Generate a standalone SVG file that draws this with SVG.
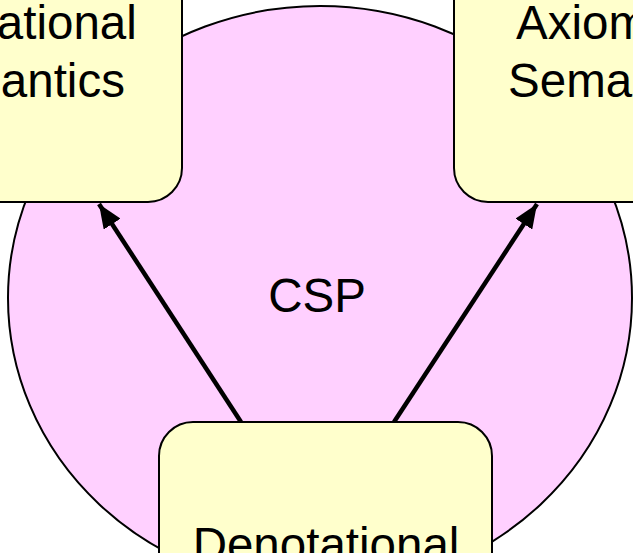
<svg xmlns="http://www.w3.org/2000/svg" width="633" height="553" viewBox="0 0 633 553">
<style>
.box{fill:#FFFFCC;stroke:#000;stroke-width:2}
.t{font-family:"Liberation Sans",Arial,sans-serif;font-size:47.5px;fill:#000;text-anchor:middle}
.arr{stroke:#000;stroke-width:4.5;fill:none}
</style>
<defs>
<marker id="ah" markerUnits="userSpaceOnUse" markerWidth="24" markerHeight="20" viewBox="0 0 24 20" refX="24" refY="10" orient="auto">
<path d="M0,0 L24,10 L0,20 Z" fill="#000"/>
</marker>
</defs>
<g id="csp">
<ellipse cx="320" cy="298" rx="312" ry="292" fill="#FFD0FF" stroke="#000" stroke-width="2"/>
<text class="t" x="317" y="312">CSP</text>
</g>
<g id="connectors">
<line class="arr" x1="241" y1="422" x2="99" y2="204" marker-end="url(#ah)"/>
<line class="arr" x1="394" y1="422" x2="537" y2="204" marker-end="url(#ah)"/>
</g>
<g id="operational">
<rect class="box" x="-150" y="-100" width="332" height="302" rx="34"/>
<text class="t" x="14" y="39">Operational</text>
<text class="t" x="14" y="97">Semantics</text>
</g>
<g id="axiomatic">
<rect class="box" x="454" y="-100" width="332" height="302" rx="34"/>
<text class="t" x="619" y="39">Axiomatic</text>
<text class="t" x="619" y="97">Semantics</text>
</g>
<g id="denotational">
<rect class="box" x="159" y="422" width="333" height="302" rx="34"/>
<text class="t" x="326" y="561">Denotational</text>
</g>
</svg>
